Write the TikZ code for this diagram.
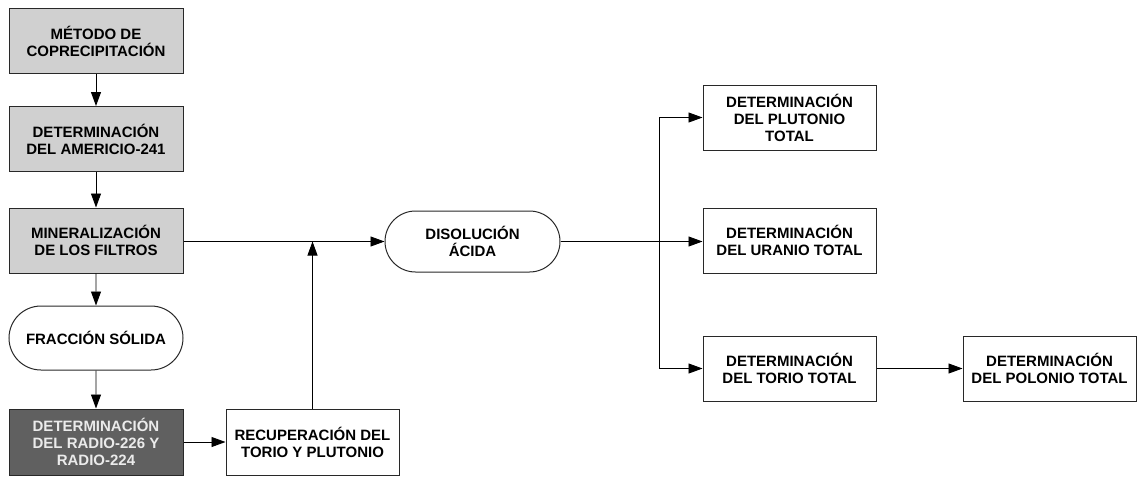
\documentclass[tikz,border=0pt]{standalone}
\usepackage{fontspec}
\setmainfont{Liberation Sans}
\usetikzlibrary{arrows.meta,shapes.misc}
\definecolor{lightfill}{RGB}{208,208,208}
\definecolor{darkfill}{RGB}{96,96,96}
\definecolor{darktext}{RGB}{235,235,235}
\definecolor{edge}{RGB}{40,40,40}
\begin{document}
\begin{tikzpicture}[x=1pt,y=-1pt,
  every node/.style={font=\fontsize{15}{17}\selectfont\bfseries, align=center, inner sep=0pt},
  procbox/.style={draw=edge, line width=1pt, rectangle, minimum width=174pt, minimum height=65pt},
  graybox/.style={procbox, fill=lightfill},
  darkbox/.style={procbox, fill=darkfill, text=darktext},
  termbox/.style={draw=edge, line width=1pt, rounded rectangle, minimum width=174pt, minimum height=64pt},
  flow/.style={draw=black, line width=0.9pt, -{Triangle[length=14pt,width=10pt]}},
  link/.style={draw=black, line width=0.9pt}]
\useasboundingbox (0,0) rectangle (1139,477);

% left column
\node[graybox] (m1) at (96,41) {MÉTODO DE\\COPRECIPITACIÓN};
\node[graybox] (m2) at (96,139) {DETERMINACIÓN\\DEL AMERICIO-241};
\node[graybox] (m3) at (96,240.5) {MINERALIZACIÓN\\DE LOS FILTROS};
\node[termbox] (fs) at (96,338) {FRACCIÓN SÓLIDA};
\node[darkbox, minimum height=66pt] (rad) at (96,442) {DETERMINACIÓN\\DEL RADIO-226 Y\\RADIO-224};
\node[procbox, minimum width=173pt, minimum height=66pt] (rec) at (312.5,442) {RECUPERACIÓN DEL\\TORIO Y PLUTONIO};

% middle
\node[termbox, minimum width=175pt, minimum height=61pt] (dis) at (472.5,241.5) {DISOLUCIÓN\\ÁCIDA};

% right column
\node[procbox, minimum width=173pt] (pu) at (789.5,117.5) {DETERMINACIÓN\\DEL PLUTONIO\\TOTAL};
\node[procbox, minimum width=173pt] (u) at (789.5,240.5) {DETERMINACIÓN\\DEL URANIO TOTAL};
\node[procbox, minimum width=173pt] (th) at (789.5,368.5) {DETERMINACIÓN\\DEL TORIO TOTAL};
\node[procbox, minimum width=173pt] (po) at (1049.5,368.5) {DETERMINACIÓN\\DEL POLONIO TOTAL};

\coordinate (split) at (659,241.5);

% connectors
\draw[flow] (m1) -- (m2);
\draw[flow] (m2) -- (m3);
\draw[flow] (m3) -- (fs);
\draw[flow] (fs) -- (rad);
\draw[flow] (rad) -- (rec);
\draw[flow] (m3.east |- dis.west) -- (dis.west);
\draw[flow] (rec.north) -- (rec.north |- dis.west);
\draw[flow] (dis.east) -- (u.west |- dis.east);
\draw[link] (split |- pu.west) -- (split |- th.west);
\draw[flow] (split |- pu.west) -- (pu.west);
\draw[flow] (split |- th.west) -- (th.west);
\draw[flow] (th) -- (po);
\end{tikzpicture}
\end{document}
